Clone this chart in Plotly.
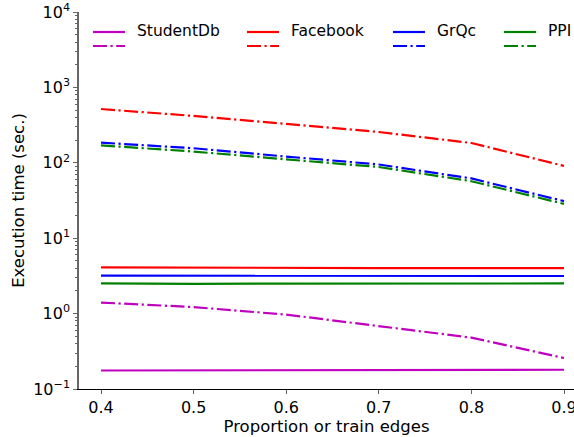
import plotly.graph_objects as go

# ---- data ----
proportion = [0.4, 0.5, 0.6, 0.7, 0.8, 0.9]
datasets = ["StudentDb", "Facebook", "GrQc", "PPI"]
colors = ["#bf00bf", "#ff0000", "#0000ff", "#008000"]
y_tick_values = [0.1, 1, 10, 100, 1000, 10000]
y_tick_labels = ["10<sup>−1</sup>", "10<sup>0</sup>", "10<sup>1</sup>",
                 "10<sup>2</sup>", "10<sup>3</sup>", "10<sup>4</sup>"]
x_tick_labels = ["0.4", "0.5", "0.6", "0.7", "0.8", "0.9"]

studentdb_solid = [0.176, 0.176, 0.176, 0.177, 0.178, 0.180]
studentdb_dash = [1.40, 1.22, 0.97, 0.69, 0.48, 0.258]
facebook_solid = [4.10, 4.05, 4.03, 4.02, 4.01, 4.00]
facebook_dash = [517, 418, 328, 256, 183, 91]
grqc_solid = [3.18, 3.17, 3.16, 3.17, 3.17, 3.17]
grqc_dash = [185, 156, 121, 95, 62, 31]
ppi_solid = [2.52, 2.48, 2.50, 2.51, 2.51, 2.51]
ppi_dash = [170, 141, 111, 88, 57, 28.5]

solid_series = [studentdb_solid, facebook_solid, grqc_solid, ppi_solid]
dash_series = [studentdb_dash, facebook_dash, grqc_dash, ppi_dash]

# ---- geometry ----
W, H = 574, 437
ML, MR, MT, MB = 79, 0, 12, 48
PW, PH = W - ML - MR, H - MT - MB
DASHDOT = "14px,3.5px,2.2px,3.5px"
LW = 2.2


def px_x(p):
    return (p - ML) / PW


def px_y(p):
    return (H - MB - p) / PH


fig = go.Figure()
for name, col, ys in zip(datasets, colors, solid_series):
    fig.add_trace(go.Scatter(x=proportion, y=ys, mode="lines", name=name,
                             line=dict(color=col, width=LW), showlegend=False))
for name, col, ys in zip(datasets, colors, dash_series):
    fig.add_trace(go.Scatter(x=proportion, y=ys, mode="lines", name=name + " (dash)",
                             line=dict(color=col, width=LW, dash=DASHDOT), showlegend=False))

# ---- manual two-row legend ----
leg_line_x = [93, 247, 393, 504]
shapes, annots = [], []
for i, (name, col) in enumerate(zip(datasets, colors)):
    x0 = leg_line_x[i]
    for row_y, dash in ((32, "solid"), (46, DASHDOT)):
        shapes.append(dict(type="line", xref="paper", yref="paper",
                           x0=px_x(x0), x1=px_x(x0 + 32), y0=px_y(row_y), y1=px_y(row_y),
                           line=dict(color=col, width=LW, dash=dash)))
    annots.append(dict(xref="paper", yref="paper", x=px_x(x0 + 42), y=px_y(31.5),
                       text=name, showarrow=False, xanchor="left", yanchor="middle",
                       font=dict(family="DejaVu Sans", size=15.5, color="black")))

tick_font = dict(family="DejaVu Sans", size=16, color="black")
title_font = dict(family="DejaVu Sans", size=16.5, color="black")
x0r = 0.4 - 22 / 926
fig.update_layout(
    width=W, height=H,
    margin=dict(l=ML, r=MR, t=MT, b=MB, pad=0, autoexpand=False),
    paper_bgcolor="white", plot_bgcolor="white",
    font=tick_font,
    shapes=shapes, annotations=annots,
    xaxis=dict(range=[x0r, x0r + PW / 926], automargin=False,
               tickvals=proportion, ticktext=x_tick_labels,
               showgrid=False, zeroline=False,
               showline=True, linecolor="black", linewidth=1.2,
               ticks="outside", ticklen=4, tickcolor="#666", tickwidth=1,
               ticklabeloverflow="allow",
               tickfont=tick_font,
               title=dict(text="Proportion or train edges", font=title_font, standoff=4)),
    yaxis=dict(type="log", range=[-1, 4], automargin=False,
               tickvals=y_tick_values, ticktext=y_tick_labels,
               showgrid=False, zeroline=False,
               showline=True, linecolor="#666", linewidth=1.5,
               ticks="outside", ticklen=4, tickcolor="#666", tickwidth=1,
               minor=dict(ticks="outside", ticklen=2.3, tickcolor="#666", dtick="D1", showgrid=False),
               tickfont=tick_font,
               title=dict(text="Execution time (sec.)", font=title_font, standoff=4)),
)

fig.write_html("out.html", config={"displayModeBar": False},
               post_script="document.body.style.margin='0';document.body.style.overflow='hidden';")
